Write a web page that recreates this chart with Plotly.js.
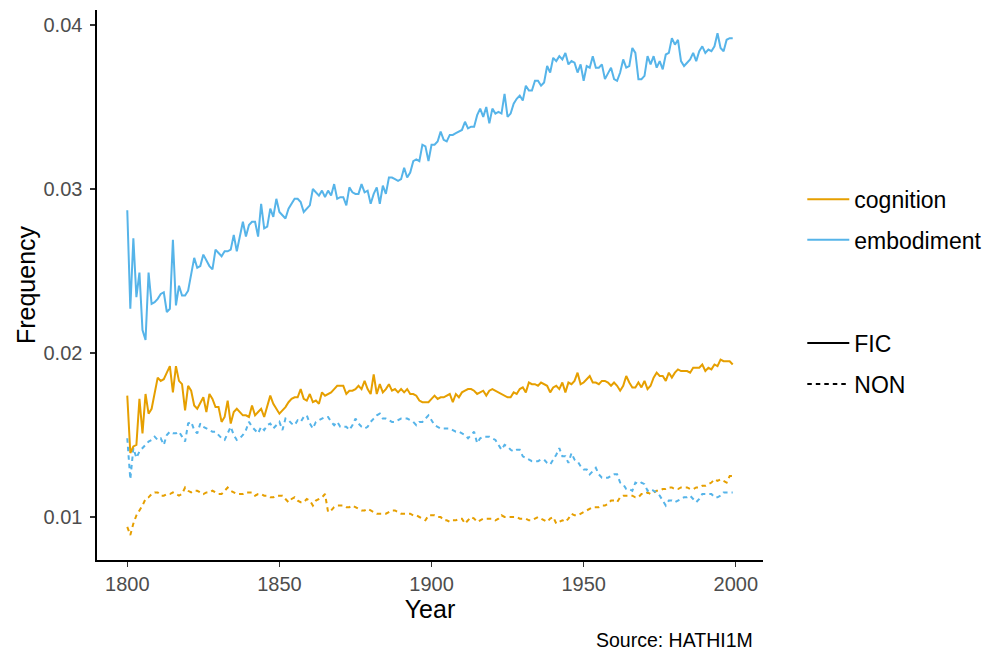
<!DOCTYPE html>
<html>
<head>
<meta charset="utf-8">
<script src="https://cdn.plot.ly/plotly-3.0.1.min.js"></script>
<style>html,body{margin:0;padding:0;background:#fff;}#chart{width:997px;height:656px;}</style>
</head>
<body>
<div id="chart"></div>
<script>
const firstYear = 1800;
const lastYear = 1999;

const embodimentFIC = [
0.0287,0.0227,0.0270,0.0234,0.0249,0.0214,0.0208,0.0249,0.0230,0.0231,
0.0233,0.0236,0.0237,0.0225,0.0227,0.0269,0.0229,0.0241,0.0235,0.0235,
0.0238,0.0247,0.0258,0.0252,0.0253,0.0260,0.0256,0.0253,0.0251,0.0263,
0.0261,0.0259,0.0262,0.0262,0.0263,0.0272,0.0262,0.0270,0.0280,0.0271,
0.0278,0.0280,0.0280,0.0271,0.0291,0.0276,0.0277,0.0288,0.0283,0.0294,
0.0286,0.0284,0.0282,0.0288,0.0291,0.0294,0.0294,0.0292,0.0286,0.0288,
0.0290,0.0300,0.0298,0.0296,0.0299,0.0295,0.0299,0.0296,0.0303,0.0294,
0.0295,0.0295,0.0290,0.0301,0.0298,0.0297,0.0297,0.0303,0.0298,0.0299,
0.0291,0.0297,0.0301,0.0291,0.0302,0.0297,0.0307,0.0307,0.0306,0.0305,
0.0306,0.0313,0.0307,0.0310,0.0317,0.0318,0.0317,0.0327,0.0326,0.0317,
0.0327,0.0327,0.0329,0.0335,0.0330,0.0329,0.0333,0.0333,0.0334,0.0335,
0.0336,0.0341,0.0337,0.0338,0.0338,0.0345,0.0349,0.0344,0.0350,0.0340,
0.0349,0.0346,0.0347,0.0346,0.0358,0.0344,0.0346,0.0352,0.0355,0.0357,
0.0354,0.0363,0.0360,0.0360,0.0366,0.0366,0.0363,0.0365,0.0375,0.0371,
0.0380,0.0378,0.0381,0.0379,0.0383,0.0376,0.0378,0.0377,0.0371,0.0376,
0.0366,0.0375,0.0374,0.0381,0.0374,0.0374,0.0376,0.0367,0.0371,0.0374,
0.0367,0.0366,0.0371,0.0379,0.0374,0.0375,0.0386,0.0383,0.0367,0.0367,
0.0369,0.0381,0.0376,0.0381,0.0374,0.0378,0.0373,0.0382,0.0383,0.0392,
0.0388,0.0391,0.0378,0.0375,0.0377,0.0379,0.0383,0.0378,0.0384,0.0387,
0.0383,0.0385,0.0384,0.0387,0.0395,0.0386,0.0384,0.0391,0.0392,0.0392
];

const cognitionFIC = [
0.0174,0.0139,0.0143,0.0144,0.0172,0.0151,0.0175,0.0163,0.0166,0.0175,
0.0185,0.0183,0.0184,0.0188,0.0192,0.0176,0.0192,0.0183,0.0181,0.0165,
0.0180,0.0177,0.0168,0.0166,0.0170,0.0173,0.0164,0.0175,0.0172,0.0167,
0.0167,0.0158,0.0161,0.0171,0.0157,0.0164,0.0166,0.0164,0.0162,0.0162,
0.0161,0.0168,0.0162,0.0164,0.0166,0.0161,0.0167,0.0174,0.0169,0.0166,
0.0163,0.0165,0.0167,0.0170,0.0172,0.0173,0.0173,0.0178,0.0172,0.0171,
0.0175,0.0170,0.0171,0.0169,0.0176,0.0174,0.0175,0.0176,0.0178,0.0180,
0.0180,0.0180,0.0175,0.0177,0.0177,0.0178,0.0180,0.0178,0.0183,0.0178,
0.0175,0.0187,0.0175,0.0181,0.0176,0.0178,0.0181,0.0177,0.0178,0.0176,
0.0178,0.0176,0.0178,0.0175,0.0175,0.0174,0.0171,0.0170,0.0170,0.0170,
0.0172,0.0174,0.0172,0.0173,0.0173,0.0174,0.0175,0.0170,0.0175,0.0173,
0.0176,0.0177,0.0178,0.0178,0.0177,0.0175,0.0176,0.0177,0.0174,0.0177,
0.0178,0.0177,0.0176,0.0175,0.0174,0.0173,0.0173,0.0176,0.0175,0.0178,
0.0179,0.0176,0.0182,0.0181,0.0181,0.0180,0.0182,0.0181,0.0180,0.0176,
0.0179,0.0180,0.0178,0.0182,0.0176,0.0182,0.0181,0.0183,0.0188,0.0181,
0.0182,0.0184,0.0186,0.0182,0.0182,0.0181,0.0183,0.0183,0.0182,0.0180,
0.0182,0.0180,0.0177,0.0180,0.0186,0.0182,0.0179,0.0179,0.0182,0.0179,
0.0183,0.0178,0.0180,0.0185,0.0188,0.0186,0.0186,0.0183,0.0188,0.0185,
0.0188,0.0190,0.0189,0.0189,0.0189,0.0188,0.0191,0.0191,0.0191,0.0193,
0.0189,0.0191,0.0190,0.0193,0.0192,0.0196,0.0195,0.0195,0.0195,0.0193
];

const embodimentNON = [
0.0148,0.0123,0.0142,0.0136,0.0140,0.0142,0.0144,0.0146,0.0147,0.0149,
0.0147,0.0148,0.0144,0.0150,0.0152,0.0151,0.0151,0.0152,0.0149,0.0146,
0.0157,0.0158,0.0153,0.0151,0.0157,0.0155,0.0154,0.0153,0.0152,0.0152,
0.0150,0.0148,0.0147,0.0151,0.0155,0.0150,0.0147,0.0148,0.0150,0.0153,
0.0158,0.0155,0.0153,0.0151,0.0155,0.0153,0.0156,0.0157,0.0154,0.0156,
0.0158,0.0153,0.0160,0.0159,0.0157,0.0156,0.0159,0.0158,0.0161,0.0162,
0.0157,0.0154,0.0158,0.0159,0.0160,0.0161,0.0161,0.0158,0.0156,0.0158,
0.0155,0.0155,0.0155,0.0153,0.0156,0.0160,0.0157,0.0155,0.0154,0.0155,
0.0158,0.0160,0.0162,0.0163,0.0160,0.0160,0.0159,0.0158,0.0158,0.0159,
0.0160,0.0160,0.0160,0.0159,0.0158,0.0156,0.0158,0.0158,0.0160,0.0162,
0.0159,0.0156,0.0155,0.0154,0.0154,0.0154,0.0154,0.0153,0.0152,0.0152,
0.0151,0.0150,0.0148,0.0150,0.0152,0.0145,0.0148,0.0149,0.0149,0.0149,
0.0148,0.0147,0.0144,0.0141,0.0144,0.0143,0.0141,0.0140,0.0141,0.0141,
0.0137,0.0136,0.0135,0.0134,0.0134,0.0134,0.0135,0.0135,0.0133,0.0132,
0.0135,0.0138,0.0142,0.0137,0.0137,0.0133,0.0139,0.0135,0.0134,0.0131,
0.0129,0.0129,0.0126,0.0128,0.0130,0.0126,0.0124,0.0124,0.0124,0.0125,
0.0126,0.0126,0.0121,0.0120,0.0117,0.0117,0.0116,0.0121,0.0120,0.0121,
0.0120,0.0116,0.0117,0.0116,0.0115,0.0113,0.0110,0.0107,0.0110,0.0110,
0.0109,0.0110,0.0111,0.0112,0.0112,0.0113,0.0111,0.0109,0.0111,0.0114,
0.0114,0.0114,0.0114,0.0112,0.0112,0.0113,0.0115,0.0115,0.0115,0.0115
];

const cognitionNON = [
0.0094,0.0089,0.0096,0.0101,0.0104,0.0107,0.0111,0.0112,0.0114,0.0115,
0.0115,0.0113,0.0113,0.0114,0.0114,0.0115,0.0114,0.0113,0.0114,0.0118,
0.0116,0.0115,0.0116,0.0116,0.0115,0.0114,0.0115,0.0115,0.0116,0.0115,
0.0114,0.0114,0.0116,0.0118,0.0116,0.0115,0.0114,0.0114,0.0114,0.0115,
0.0115,0.0115,0.0113,0.0114,0.0114,0.0113,0.0113,0.0112,0.0112,0.0113,
0.0113,0.0113,0.0111,0.0109,0.0111,0.0112,0.0110,0.0109,0.0109,0.0111,
0.0110,0.0107,0.0110,0.0111,0.0112,0.0114,0.0103,0.0104,0.0106,0.0107,
0.0107,0.0107,0.0106,0.0106,0.0107,0.0106,0.0105,0.0104,0.0104,0.0105,
0.0104,0.0103,0.0102,0.0102,0.0102,0.0102,0.0103,0.0104,0.0104,0.0103,
0.0102,0.0102,0.0102,0.0102,0.0101,0.0101,0.0100,0.0099,0.0098,0.0101,
0.0101,0.0101,0.0100,0.0100,0.0098,0.0098,0.0097,0.0098,0.0098,0.0099,
0.0099,0.0096,0.0098,0.0100,0.0099,0.0097,0.0098,0.0099,0.0099,0.0099,
0.0099,0.0098,0.0099,0.0101,0.0100,0.0100,0.0100,0.0100,0.0100,0.0099,
0.0099,0.0099,0.0098,0.0098,0.0099,0.0100,0.0099,0.0098,0.0097,0.0099,
0.0100,0.0096,0.0097,0.0098,0.0097,0.0099,0.0102,0.0101,0.0101,0.0102,
0.0103,0.0104,0.0105,0.0106,0.0106,0.0106,0.0107,0.0107,0.0108,0.0110,
0.0110,0.0109,0.0112,0.0113,0.0113,0.0113,0.0113,0.0112,0.0112,0.0114,
0.0114,0.0115,0.0114,0.0115,0.0116,0.0116,0.0117,0.0117,0.0118,0.0118,
0.0117,0.0117,0.0118,0.0118,0.0118,0.0117,0.0117,0.0118,0.0118,0.0119,
0.0119,0.0120,0.0121,0.0123,0.0122,0.0123,0.0122,0.0121,0.0125,0.0125
];

const xTicks = [1800, 1850, 1900, 1950, 2000];
const yTicks = [0.01, 0.02, 0.03, 0.04];
const conceptLabels = ["cognition", "embodiment"];
const genreLabels = ["FIC", "NON"];
const captionText = "Source: HATHI1M";

const years = [];
for (let y = firstYear; y <= lastYear; y++) years.push(y);

const ORANGE = "#E69F00", BLUE = "#56B4E9";
const DASH = "4.5px,4px";
const FONT = "Liberation Sans, Arial, Helvetica, sans-serif";

const traces = [
  {x: years, y: cognitionNON, mode: "lines", line: {color: ORANGE, width: 2, dash: DASH}, showlegend: false, hoverinfo: "skip"},
  {x: years, y: embodimentNON, mode: "lines", line: {color: BLUE, width: 2, dash: DASH}, showlegend: false, hoverinfo: "skip"},
  {x: years, y: cognitionFIC, mode: "lines", line: {color: ORANGE, width: 2}, showlegend: false, hoverinfo: "skip"},
  {x: years, y: embodimentFIC, mode: "lines", line: {color: BLUE, width: 2}, showlegend: false, hoverinfo: "skip"},
  {x: [null], y: [null], mode: "lines", name: conceptLabels[0], line: {color: ORANGE, width: 2}, legend: "legend"},
  {x: [null], y: [null], mode: "lines", name: conceptLabels[1], line: {color: BLUE, width: 2}, legend: "legend2"},
  {x: [null], y: [null], mode: "lines", name: genreLabels[0], line: {color: "#000000", width: 2}, legend: "legend3"},
  {x: [null], y: [null], mode: "lines", name: genreLabels[1], line: {color: "#000000", width: 2, dash: DASH}, legend: "legend4"}
];

function leg(yp) {
  return {x: 1.059, xanchor: "left", y: yp, yanchor: "middle", xref: "paper", yref: "paper",
    font: {family: FONT, size: 23, color: "#000"}, bgcolor: "rgba(0,0,0,0)", borderwidth: 0,
    itemwidth: 42, itemclick: false, itemdoubleclick: false};
}

const layout = {
  width: 997, height: 656,
  margin: {l: 97, r: 234, t: 10, b: 96, pad: 0},
  paper_bgcolor: "#ffffff", plot_bgcolor: "#ffffff",
  font: {family: FONT, color: "#000"},
  showlegend: true,
  xaxis: {
    range: [1790.05, 2008.95], tickvals: xTicks, ticktext: xTicks.map(String),
    showgrid: false, zeroline: false, showline: true, linecolor: "#000", linewidth: 1.6,
    ticks: "outside", ticklen: 5, tickwidth: 1.3, tickcolor: "#333333",
    tickfont: {family: FONT, size: 20, color: "#4D4D4D"},
    title: {text: "Year", font: {family: FONT, size: 25, color: "#000"}, standoff: 6},
    automargin: false, fixedrange: true
  },
  yaxis: {
    range: [0.007378, 0.040915], tickvals: yTicks, ticktext: yTicks.map(v => v.toFixed(2)),
    showgrid: false, zeroline: false, showline: true, linecolor: "#000", linewidth: 1.6,
    ticks: "outside", ticklen: 5, tickwidth: 1.3, tickcolor: "#333333",
    tickfont: {family: FONT, size: 20, color: "#4D4D4D"}, ticklabelstandoff: 4,
    title: {text: "Frequency", font: {family: FONT, size: 25, color: "#000"}, standoff: 1},
    automargin: false, fixedrange: true
  },
  legend: leg(0.656),
  legend2: leg(0.582),
  legend3: leg(0.3945),
  legend4: leg(0.32),
  annotations: [{
    text: captionText, xref: "paper", yref: "paper", x: 0.988, y: -0.1455,
    xanchor: "right", yanchor: "middle", showarrow: false,
    font: {family: FONT, size: 19.5, color: "#000"}
  }]
};

Plotly.newPlot("chart", traces, layout, {staticPlot: true, displayModeBar: false});
</script>
</body>
</html>
